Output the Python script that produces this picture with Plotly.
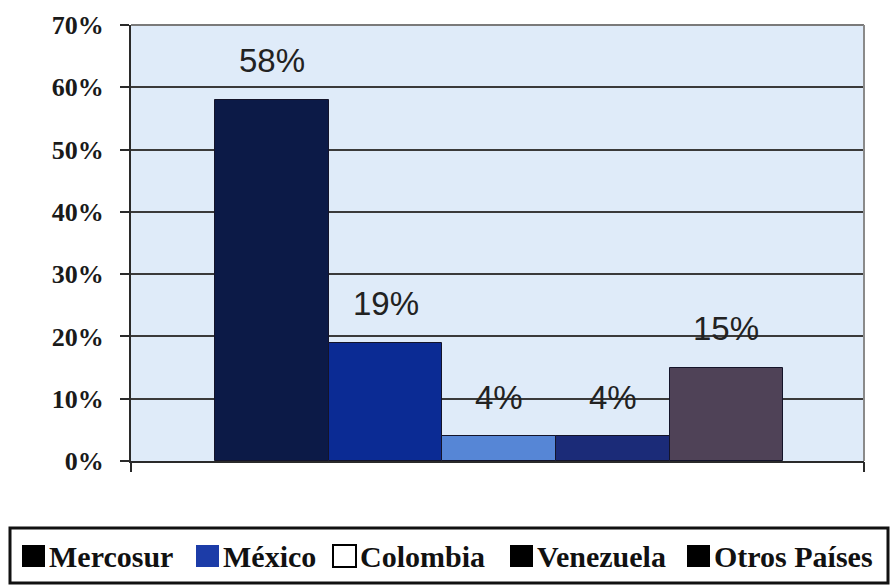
import plotly.graph_objects as go

# Share of total by destination (%)
categories = ["Mercosur", "México", "Colombia", "Venezuela", "Otros Países"]
values = [58, 19, 4, 4, 15]
bar_colors = ["#0c1a47", "#0b2b94", "#5686d6", "#1b2b78", "#4f4257"]
# Swatch colours printed in the key
key_colors = ["#000000", "#1c3ca8", None, "#000000", "#000000"]
y_ticks = [0, 10, 20, 30, 40, 50, 60, 70]
y_tick_labels = [f"{t}%" for t in y_ticks]

W, H = 891, 585
L, R, T, B = 131, 27, 25, 124
pw, ph = W - L - R, H - T - B


def px_x(px):
    return (px - L) / pw


def px_y(py):
    return (H - B - py) / ph


fig = go.Figure()
fig.add_trace(go.Bar(
    x=categories, y=values,
    marker=dict(color=bar_colors, line=dict(color="#14142a", width=1)),
    width=1.0, showlegend=False, hoverinfo="x+y",
))
# empty companion trace so the edge-tick axis gets rendered
fig.add_trace(go.Scatter(x=[], y=[], xaxis="x2", yaxis="y", showlegend=False,
                         hoverinfo="skip"))

# value labels above each bar
for c, v in zip(categories, values):
    fig.add_annotation(
        x=c, y=v, text=f"{v}%", showarrow=False, yshift=39,
        xanchor="center", yanchor="middle",
        font=dict(family="Liberation Sans, Arial", size=33, color="#222222"),
    )

# key box along the bottom
fig.add_shape(type="rect", xref="paper", yref="paper",
              x0=px_x(10), x1=px_x(888), y0=px_y(583), y1=px_y(528),
              line=dict(color="#111111", width=3), fillcolor="white", layer="above")

swatch_left = [22, 196, 333, 510, 687]
for name, col, xl in zip(categories, key_colors, swatch_left):
    fig.add_shape(
        type="rect", xref="paper", yref="paper",
        x0=px_x(xl), x1=px_x(xl + 23), y0=px_y(567), y1=px_y(545),
        fillcolor=col if col else "white",
        line=dict(color="#000000", width=2 if col is None else 0),
        layer="above",
    )
    fig.add_annotation(
        xref="paper", yref="paper", x=px_x(xl + 25), y=px_y(556),
        text=f"<b>{name}</b>", showarrow=False, xanchor="left", yanchor="middle",
        font=dict(family="Liberation Serif, Times New Roman", size=30, color="#111111"),
    )

# frame (top and right edges)
fig.add_shape(type="line", xref="paper", yref="paper", x0=0, x1=1, y0=1, y1=1,
              line=dict(color="#7a7a7a", width=2))
fig.add_shape(type="line", xref="paper", yref="paper", x0=1, x1=1, y0=0, y1=1,
              line=dict(color="#8a8a8a", width=2))

fig.update_layout(
    width=W, height=H,
    margin=dict(l=L, r=R, t=T, b=B, pad=0),
    paper_bgcolor="white",
    plot_bgcolor="#dfebf9",
    bargap=0,
    showlegend=False,
    xaxis=dict(
        type="category", range=[-1.24, 5.21],
        showticklabels=False, ticks="", showgrid=False, zeroline=False,
        showline=True, linecolor="#2a2a2a", linewidth=2,
    ),
    xaxis2=dict(
        overlaying="x", anchor="y", side="bottom", range=[0, 1],
        tickvals=[0, 1], ticks="outside", ticklen=10, tickwidth=2,
        tickcolor="#2a2a2a", showticklabels=False, showgrid=False,
        zeroline=False, showline=False,
    ),
    yaxis=dict(
        range=[0, 70], tickvals=y_ticks,
        ticktext=[f"<b>{t}</b>" for t in y_tick_labels],
        ticks="outside", ticklen=9, tickwidth=2, tickcolor="#2a2a2a",
        showgrid=True, gridcolor="#3a3a3a", gridwidth=2,
        showline=True, linecolor="#2a2a2a", linewidth=2, zeroline=False,
        ticklabelstandoff=11,
        tickfont=dict(family="Liberation Serif, Times New Roman", size=26, color="#1a1a1a"),
    ),
    font=dict(family="Liberation Serif, Times New Roman"),
)

fig.write_html("out.html")
